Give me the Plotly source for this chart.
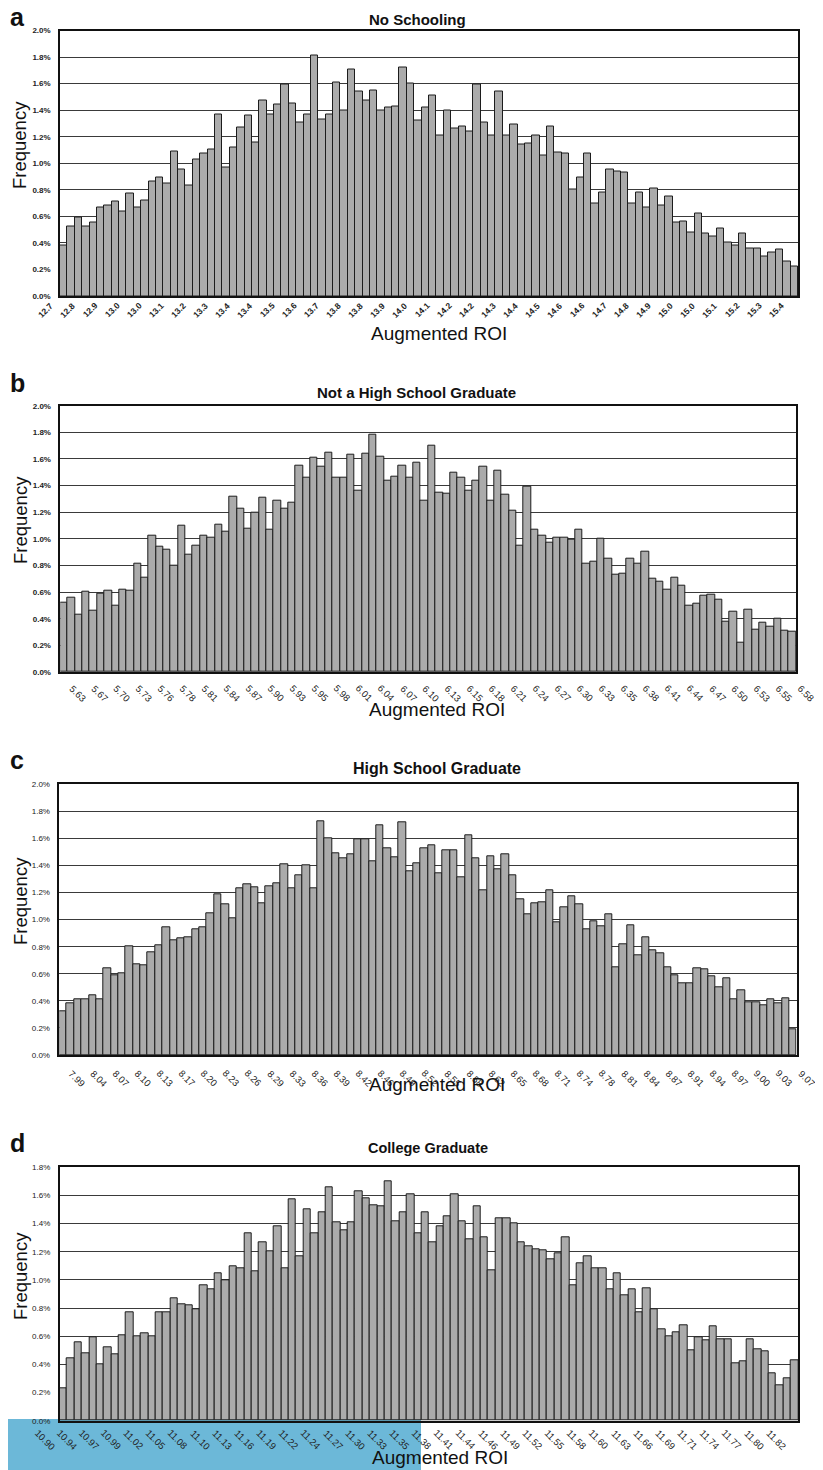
import plotly.graph_objects as go

# ---------------- data (frequencies in %) ----------------
noschool_freq = [0.38, 0.52, 0.59, 0.52, 0.55, 0.67, 0.68, 0.71, 0.64, 0.77,
                 0.67, 0.72, 0.86, 0.89, 0.85, 1.09, 0.95, 0.83, 1.03, 1.07,
                 1.10, 1.37, 0.97, 1.12, 1.27, 1.36, 1.16, 1.47, 1.37, 1.44,
                 1.59, 1.45, 1.31, 1.37, 1.81, 1.33, 1.37, 1.61, 1.40, 1.71,
                 1.54, 1.47, 1.55, 1.40, 1.42, 1.43, 1.72, 1.60, 1.32, 1.42,
                 1.51, 1.21, 1.40, 1.26, 1.28, 1.24, 1.59, 1.31, 1.21, 1.54,
                 1.21, 1.29, 1.14, 1.15, 1.21, 1.06, 1.28, 1.08, 1.07, 0.80,
                 0.89, 1.07, 0.70, 0.78, 0.95, 0.94, 0.93, 0.70, 0.78, 0.67,
                 0.81, 0.68, 0.75, 0.55, 0.56, 0.48, 0.62, 0.47, 0.45, 0.51,
                 0.40, 0.38, 0.47, 0.36, 0.36, 0.30, 0.33, 0.35, 0.26, 0.22]
noschool_labels = ["12.7", "12.8", "12.9", "13.0", "13.0", "13.1", "13.2", "13.3", "13.4",
                   "13.4", "13.5", "13.6", "13.7", "13.8", "13.8", "13.9", "14.0",
                   "14.1", "14.2", "14.2", "14.3", "14.4", "14.5", "14.6", "14.6", "14.7",
                   "14.8", "14.9", "15.0", "15.0", "15.1", "15.2", "15.3", "15.4"]

nothsg_freq = [0.52, 0.56, 0.43, 0.60, 0.46, 0.59, 0.61, 0.50, 0.62, 0.61,
               0.81, 0.71, 1.02, 0.94, 0.92, 0.80, 1.10, 0.88, 0.95, 1.02,
               1.01, 1.11, 1.05, 1.32, 1.23, 1.08, 1.20, 1.31, 1.07, 1.29,
               1.23, 1.27, 1.55, 1.46, 1.61, 1.54, 1.65, 1.46, 1.46, 1.63,
               1.36, 1.64, 1.78, 1.62, 1.44, 1.47, 1.55, 1.46, 1.57, 1.29,
               1.70, 1.35, 1.34, 1.50, 1.46, 1.36, 1.44, 1.54, 1.29, 1.51,
               1.33, 1.21, 0.95, 1.39, 1.07, 1.02, 0.97, 1.01, 1.01, 0.99,
               1.07, 0.81, 0.83, 1.00, 0.85, 0.73, 0.74, 0.85, 0.81, 0.90,
               0.70, 0.68, 0.62, 0.71, 0.65, 0.50, 0.51, 0.57, 0.58, 0.54,
               0.38, 0.45, 0.22, 0.47, 0.32, 0.37, 0.34, 0.40, 0.31, 0.30]
nothsg_labels = ["5.63", "5.67", "5.70", "5.73", "5.76", "5.78", "5.81", "5.84", "5.87",
                 "5.90", "5.93", "5.95", "5.98", "6.01", "6.04", "6.07", "6.10", "6.13",
                 "6.15", "6.18", "6.21", "6.24", "6.27", "6.30", "6.33", "6.35", "6.38",
                 "6.41", "6.44", "6.47", "6.50", "6.53", "6.55", "6.58"]

hsg_freq = [0.32, 0.38, 0.41, 0.41, 0.44, 0.41, 0.64, 0.59, 0.60, 0.80,
            0.67, 0.66, 0.76, 0.81, 0.94, 0.85, 0.86, 0.87, 0.93, 0.94,
            1.05, 1.19, 1.11, 1.01, 1.23, 1.26, 1.24, 1.12, 1.25, 1.27,
            1.41, 1.23, 1.33, 1.40, 1.23, 1.73, 1.60, 1.49, 1.45, 1.48,
            1.59, 1.59, 1.43, 1.70, 1.53, 1.46, 1.72, 1.36, 1.42, 1.53,
            1.55, 1.34, 1.51, 1.51, 1.31, 1.62, 1.45, 1.22, 1.47, 1.37,
            1.48, 1.33, 1.15, 1.04, 1.12, 1.13, 1.22, 0.98, 1.09, 1.17,
            1.11, 0.93, 0.99, 0.95, 1.04, 0.65, 0.82, 0.96, 0.74, 0.87,
            0.77, 0.75, 0.65, 0.59, 0.53, 0.53, 0.64, 0.63, 0.58, 0.50,
            0.57, 0.41, 0.48, 0.39, 0.39, 0.37, 0.41, 0.38, 0.42, 0.19]
hsg_labels = ["7.99", "8.04", "8.07", "8.10", "8.13", "8.17", "8.20", "8.23", "8.26",
              "8.29", "8.33", "8.36", "8.39", "8.42", "8.46", "8.49", "8.52", "8.55",
              "8.58", "8.62", "8.65", "8.68", "8.71", "8.74", "8.78", "8.81", "8.84",
              "8.87", "8.91", "8.94", "8.97", "9.00", "9.03", "9.07"]

college_freq = [0.23, 0.44, 0.56, 0.48, 0.59, 0.40, 0.52, 0.47, 0.61, 0.77,
                0.60, 0.62, 0.60, 0.77, 0.77, 0.87, 0.83, 0.82, 0.79, 0.96,
                0.93, 1.05, 1.00, 1.10, 1.08, 1.33, 1.06, 1.27, 1.20, 1.38,
                1.08, 1.57, 1.17, 1.50, 1.33, 1.48, 1.66, 1.41, 1.35, 1.41,
                1.63, 1.58, 1.53, 1.52, 1.70, 1.42, 1.48, 1.61, 1.33, 1.48,
                1.27, 1.38, 1.45, 1.61, 1.42, 1.29, 1.52, 1.30, 1.07, 1.44,
                1.44, 1.40, 1.27, 1.24, 1.22, 1.21, 1.15, 1.19, 1.30, 0.96,
                1.12, 1.17, 1.08, 1.08, 0.93, 1.05, 0.89, 0.93, 0.77, 0.94,
                0.79, 0.65, 0.60, 0.63, 0.68, 0.50, 0.59, 0.57, 0.67, 0.58,
                0.58, 0.41, 0.42, 0.58, 0.51, 0.49, 0.34, 0.25, 0.30, 0.43]
college_labels = ["10.90", "10.94", "10.97", "10.99", "11.02", "11.05", "11.08", "11.10",
                  "11.13", "11.16", "11.19", "11.22", "11.24", "11.27", "11.30", "11.33",
                  "11.35", "11.38", "11.41", "11.44", "11.46", "11.49", "11.52", "11.55",
                  "11.58", "11.60", "11.63", "11.66", "11.69", "11.71", "11.74", "11.77",
                  "11.80", "11.82"]

titles = ["No Schooling", "Not a High School Graduate", "High School Graduate", "College Graduate"]
panel_letters = ["a", "b", "c", "d"]

# ---------------- layout geometry (screen pixels of the 823x1470 picture) ----------------
OFF = 8                      # page body margin that offsets the plot div
W, H = 823 - OFF, 1470 - OFF  # figure size so that it exactly fills the window
FONT = "Liberation Sans, Arial, Helvetica, sans-serif"

panels = [
    dict(freq=noschool_freq, labels=noschool_labels, x0=60.0, x1=798.0, ytop=30.5, ybot=296.0,
         ymax=2.0, ybold=True, xbold=True, angle=-45, lab_anchor="right", lab_y=299,
         lab_shift=-7, lab_size=8.5,
         title_x=417, title_y=19, title_size=15,
         letter_y=17, xt_y=333, xt_x=439, yt_y=145),
    dict(freq=nothsg_freq, labels=nothsg_labels, x0=60.3, x1=796.0, ytop=405.7, ybot=672.0,
         ymax=2.0, ybold=True, xbold=False, angle=45, lab_anchor="left", lab_y=681,
         lab_shift=2, lab_size=9.5,
         title_x=416, title_y=392, title_size=15,
         letter_y=383, xt_y=710, xt_x=437, yt_y=520),
    dict(freq=hsg_freq, labels=hsg_labels, x0=59.3, x1=796.7, ytop=784.3, ybot=1055.0,
         ymax=2.0, ybold=False, xbold=False, angle=45, lab_anchor="left", lab_y=1066,
         lab_shift=2, lab_size=9.5,
         title_x=437, title_y=769, title_size=16,
         letter_y=760, xt_y=1084, xt_x=437, yt_y=901),
    dict(freq=college_freq, labels=college_labels, x0=59.7, x1=798.3, ytop=1167.3, ybot=1420.7,
         ymax=1.8, ybold=False, xbold=False, angle=45, lab_anchor="right", lab_y=1426,
         lab_shift=-5, lab_size=9.5,
         title_x=428, title_y=1148, title_size=14.5,
         letter_y=1143, xt_y=1457, xt_x=440, yt_y=1276),
]

fig = go.Figure()


def px_x(x):
    return (x - OFF) / W


def px_y(y):
    return 1 - (y - OFF) / H


annotations = []
shapes = []

# light-blue overlay band at the bottom-left of the picture
shapes.append(dict(type="rect", xref="paper", yref="paper", x0=0, x1=px_x(421),
                   y0=0, y1=px_y(1419), fillcolor="#6cb8d8", line=dict(width=0), layer="below"))

for i, p in enumerate(panels):
    n = i + 1
    xa = "x" if n == 1 else f"x{n}"
    ya = "y" if n == 1 else f"y{n}"
    idx = list(range(len(p["freq"])))
    fig.add_trace(go.Bar(x=idx, y=p["freq"], xaxis=xa, yaxis=ya,
                         marker=dict(color="#ababab", line=dict(color="#1c1c1c", width=1)),
                         showlegend=False, hoverinfo="skip"))
    tickpos = list(range(0, len(p["freq"]), 3))[:len(p["labels"])]
    xkey = "xaxis" if n == 1 else f"xaxis{n}"
    ykey = "yaxis" if n == 1 else f"yaxis{n}"
    fig.update_layout(**{
        xkey: dict(
            domain=[px_x(p["x0"]), px_x(p["x1"])], anchor=ya, automargin=False,
            range=[-0.5, len(p["freq"]) - 0.5],
            tickmode="array", tickvals=tickpos, showticklabels=False,
            ticks="", showgrid=False, zeroline=False,
            showline=True, linecolor="#111", linewidth=1.5, mirror=True,
        ),
        ykey: dict(
            domain=[px_y(p["ybot"]), px_y(p["ytop"])], anchor=xa, automargin=False,
            range=[0, p["ymax"]], dtick=0.2, tick0=0, tickformat=".1f", ticksuffix="%",
            ticks="", showgrid=True, gridcolor="#3a3a3a", gridwidth=1, zeroline=False,
            showline=True, linecolor="#111", linewidth=1.5, mirror=True,
            ticklabelstandoff=6,
            tickfont=dict(family=FONT, size=8, color="#222",
                          weight="bold" if p["ybold"] else "normal"),
        ),
    })
    # rotated category labels placed on the x axis scale
    for tv, tt in zip(tickpos, p["labels"]):
        annotations.append(dict(
            text=f"<b>{tt}</b>" if p["xbold"] else tt, xref=xa, yref="paper",
            x=tv, y=px_y(p["lab_y"]), xshift=p["lab_shift"], textangle=p["angle"],
            xanchor=p["lab_anchor"], yanchor="top",
            showarrow=False, borderpad=0,
            font=dict(family=FONT, size=p["lab_size"], color="#222")))
    # panel letter
    annotations.append(dict(text=f"<b>{panel_letters[i]}</b>", xref="paper", yref="paper",
                            x=px_x(8), y=px_y(p["letter_y"]), xanchor="left", yanchor="middle",
                            showarrow=False, font=dict(family=FONT, size=25, color="#111")))
    # panel title
    annotations.append(dict(text=f"<b>{titles[i]}</b>", xref="paper", yref="paper",
                            x=px_x(p["title_x"]), y=px_y(p["title_y"]), xanchor="center",
                            yanchor="middle", showarrow=False,
                            font=dict(family=FONT, size=p["title_size"], color="#111")))
    # x-axis title
    annotations.append(dict(text="Augmented ROI", xref="paper", yref="paper",
                            x=px_x(p["xt_x"]), y=px_y(p["xt_y"]), xanchor="center",
                            yanchor="middle", showarrow=False,
                            font=dict(family=FONT, size=19, color="#111")))
    # y-axis title
    annotations.append(dict(text="Frequency", xref="paper", yref="paper", textangle=-90,
                            x=px_x(20), y=px_y(p["yt_y"]), xanchor="center", yanchor="middle",
                            showarrow=False, font=dict(family=FONT, size=18.5, color="#111")))

fig.update_layout(
    width=W, height=H, margin=dict(l=0, r=0, t=0, b=0, autoexpand=False),
    paper_bgcolor="white", plot_bgcolor="white",
    bargap=0, annotations=annotations, shapes=shapes,
    font=dict(family=FONT),
)

fig.write_html("out.html")
